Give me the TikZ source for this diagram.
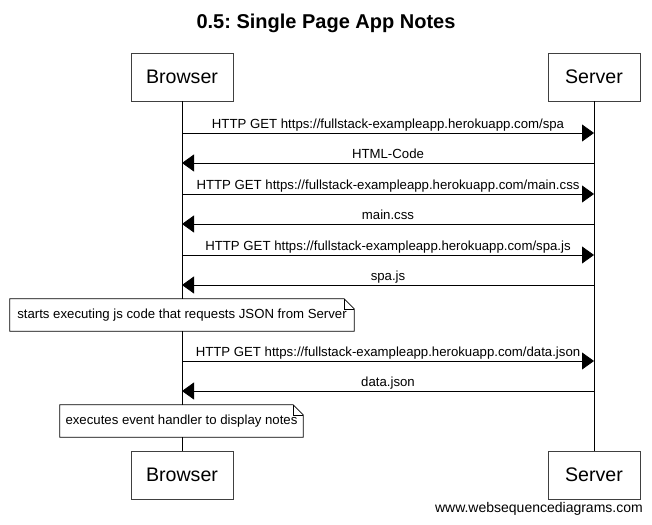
\documentclass[tikz,border=0pt]{standalone}
\usepackage{fontspec}
\setmainfont{Liberation Sans}
\usetikzlibrary{arrows.meta}
\frenchspacing
\begin{document}
\begin{tikzpicture}[x=1pt,y=-1pt,
  actor/.style={draw=black!75, line width=0.9pt, fill=white, minimum width=#1, minimum height=48pt, inner sep=0pt, font=\fontsize{19.6}{22}\selectfont},
  msg/.style={line width=0.8pt, -{Triangle[length=12pt,width=17pt]}},
  lbl/.style={font=\fontsize{13.2}{15}\selectfont, inner sep=0pt, anchor=base},
  notebox/.style={inner sep=0pt, minimum height=32pt, font=\fontsize{13.2}{15}\selectfont},
  life/.style={line width=0.8pt}]
\useasboundingbox (0,0) rectangle (652,524);
% title
\node[font=\bfseries\fontsize{20}{24}\selectfont] (title) at (326,23) {0.5: Single Page App Notes};
% actors
\node[actor=102pt] (bt) at (182,77) {Browser};
\node[actor=92pt] (st) at (594,77) {Server};
\node[actor=102pt] (bb) at (182,475) {Browser};
\node[actor=92pt] (sb) at (594,475) {Server};
\draw[life] (bt.south) -- (bb.north);
\draw[life] (st.south) -- (sb.north);
% message coordinates
\foreach \i/\y in {1/133,2/163,3/194,4/224,5/255,6/285,7/361,8/391}{
  \coordinate (b\i) at (182,\y);
  \coordinate (s\i) at (594,\y);
}
\draw[msg] (b1) -- (s1) node[lbl, midway, yshift=5pt] {HTTP GET https://fullstack-exampleapp.herokuapp.com/spa};
\draw[msg] (s2) -- (b2) node[lbl, midway, yshift=5pt] {HTML-Code};
\draw[msg] (b3) -- (s3) node[lbl, midway, yshift=5pt] {HTTP GET https://fullstack-exampleapp.herokuapp.com/main.css};
\draw[msg] (s4) -- (b4) node[lbl, midway, yshift=5pt] {main.css};
\draw[msg] (b5) -- (s5) node[lbl, midway, yshift=5pt] {HTTP GET https://fullstack-exampleapp.herokuapp.com/spa.js};
\draw[msg] (s6) -- (b6) node[lbl, midway, yshift=5pt] {spa.js};
\draw[msg] (b7) -- (s7) node[lbl, midway, yshift=5pt] {HTTP GET https://fullstack-exampleapp.herokuapp.com/data.json};
\draw[msg] (s8) -- (b8) node[lbl, midway, yshift=5pt] {data.json};
% notes
\node[notebox, minimum width=344pt] (n1) at (182,315) {starts executing js code that requests JSON from Server};
\fill[white] (n1.south west) rectangle (n1.north east);
\draw[line width=0.8pt] (n1.north west) -- ([xshift=-10pt]n1.north east) -- ([yshift=-10pt]n1.north east) -- (n1.south east) -- (n1.south west) -- cycle;
\draw[line width=0.6pt] ([xshift=-10pt]n1.north east) |- ([yshift=-10pt]n1.north east);
\node[notebox, minimum width=344pt] at (182,315) {starts executing js code that requests JSON from Server};
\node[notebox, minimum width=243pt] (n2) at (181.5,421) {executes event handler to display notes};
\fill[white] (n2.south west) rectangle (n2.north east);
\draw[line width=0.8pt] (n2.north west) -- ([xshift=-10pt]n2.north east) -- ([yshift=-10pt]n2.north east) -- (n2.south east) -- (n2.south west) -- cycle;
\draw[line width=0.6pt] ([xshift=-10pt]n2.north east) |- ([yshift=-10pt]n2.north east);
\node[notebox, minimum width=243pt] at (181.5,421) {executes event handler to display notes};
% watermark
\node[font=\fontsize{14}{16}\selectfont, anchor=east, inner sep=0pt] (wm) at (643,509) {www.websequencediagrams.com};
\end{tikzpicture}
\end{document}
